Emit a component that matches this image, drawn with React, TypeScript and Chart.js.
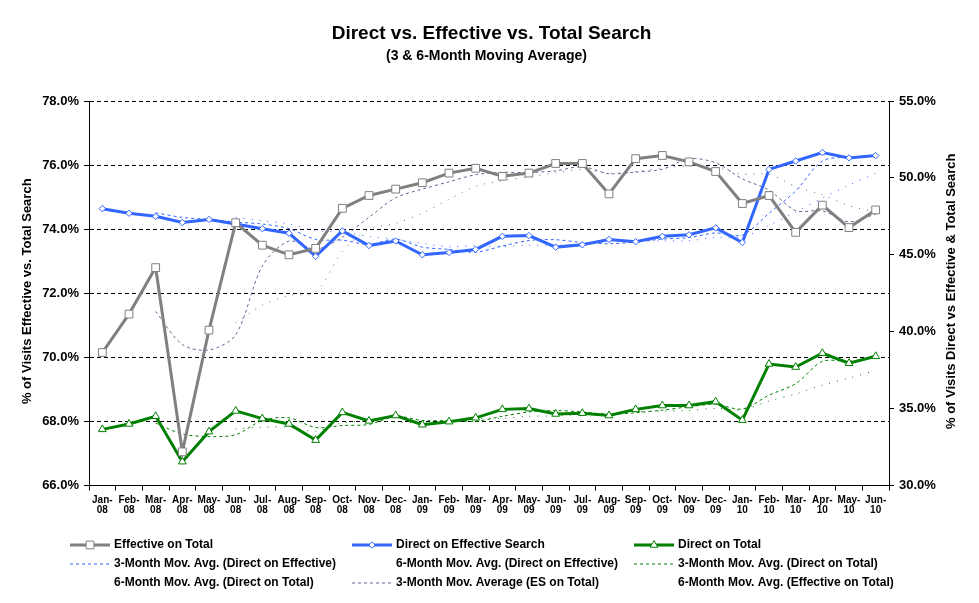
import { useEffect, useRef } from "react";
import { Chart, registerables } from "chart.js";
import { drawPoint } from "chart.js/helpers";

Chart.register(...registerables);

const categories: string[][] = [
  ["Jan-", "08"], ["Feb-", "08"], ["Mar-", "08"], ["Apr-", "08"], ["May-", "08"], ["Jun-", "08"],
  ["Jul-", "08"], ["Aug-", "08"], ["Sep-", "08"], ["Oct-", "08"], ["Nov-", "08"], ["Dec-", "08"],
  ["Jan-", "09"], ["Feb-", "09"], ["Mar-", "09"], ["Apr-", "09"], ["May-", "09"], ["Jun-", "09"],
  ["Jul-", "09"], ["Aug-", "09"], ["Sep-", "09"], ["Oct-", "09"], ["Nov-", "09"], ["Dec-", "09"],
  ["Jan-", "10"], ["Feb-", "10"], ["Mar-", "10"], ["Apr-", "10"], ["May-", "10"], ["Jun-", "10"],
];

const effectiveOnTotal = [70.15, 71.35, 72.8, 67.05, 70.85, 74.2, 73.5, 73.2, 73.4, 74.65, 75.05, 75.25, 75.45, 75.75, 75.9, 75.65, 75.75, 76.05, 76.05, 75.1, 76.2, 76.3, 76.1, 75.8, 74.8, 75.05, 73.9, 74.75, 74.05, 74.6];
const directOnEffective = [48.0, 47.7, 47.5, 47.1, 47.3, 47.0, 46.7, 46.4, 44.9, 46.55, 45.6, 45.9, 45.0, 45.15, 45.35, 46.2, 46.25, 45.5, 45.65, 46.0, 45.85, 46.2, 46.3, 46.75, 45.8, 50.55, 51.1, 51.65, 51.3, 51.45];
const directOnTotal = [33.65, 34.0, 34.5, 31.55, 33.5, 34.85, 34.35, 34.0, 32.95, 34.75, 34.2, 34.55, 33.95, 34.15, 34.4, 34.95, 35.0, 34.65, 34.7, 34.55, 34.95, 35.2, 35.2, 35.45, 34.25, 37.9, 37.7, 38.6, 37.95, 38.4];

const dirEffMA3 = [null, null, 47.73, 47.43, 47.3, 47.13, 47.0, 46.7, 46.0, 45.95, 45.68, 46.02, 45.5, 45.35, 45.17, 45.57, 45.93, 45.98, 45.8, 45.72, 45.83, 46.02, 46.12, 46.42, 46.28, 47.7, 49.15, 51.1, 51.35, 51.47];
const dirEffMA6 = [null, null, null, null, null, 47.43, 47.22, 47.0, 46.57, 46.48, 46.19, 46.01, 45.73, 45.52, 45.59, 45.53, 45.64, 45.58, 45.68, 45.83, 45.91, 45.91, 45.92, 46.13, 46.15, 46.91, 47.78, 48.69, 49.53, 50.31];
const dirTotMA3 = [null, null, 34.05, 33.35, 33.18, 33.3, 34.23, 34.4, 33.77, 33.9, 33.97, 34.5, 34.23, 34.22, 34.17, 34.5, 34.78, 34.87, 34.78, 34.63, 34.73, 34.9, 35.12, 35.28, 34.97, 35.87, 36.62, 38.07, 38.08, 38.32];
const dirTotMA6 = [null, null, null, null, null, 33.68, 33.79, 33.79, 33.53, 34.07, 34.18, 34.13, 34.07, 34.09, 34.33, 34.37, 34.5, 34.52, 34.64, 34.71, 34.8, 34.84, 34.88, 35.01, 34.93, 35.49, 35.95, 36.52, 36.98, 37.47];
const effTotMA3 = [null, null, 71.43, 70.4, 70.23, 70.7, 72.85, 73.63, 73.37, 73.75, 74.37, 74.98, 75.25, 75.48, 75.7, 75.77, 75.77, 75.82, 75.95, 75.73, 75.78, 75.87, 76.2, 76.07, 75.57, 75.22, 74.58, 74.57, 74.23, 74.47];
const effTotMA6 = [null, null, null, null, null, 71.07, 71.63, 71.93, 72.03, 73.3, 74.0, 74.18, 74.5, 74.93, 75.34, 75.51, 75.63, 75.76, 75.86, 75.75, 75.8, 75.91, 75.97, 75.93, 75.72, 75.71, 75.33, 75.07, 74.73, 74.53];

const titleText = "Direct vs. Effective vs. Total Search";
const subtitleText = "(3 & 6-Month Moving Average)";
const leftAxisTitle = "% of Visits Effective vs. Total Search";
const rightAxisTitle = "% of Visits Direct vs Effective & Total Search";

const FONT = "'Liberation Sans', Arial, sans-serif";
const GRAY = "#808080";
const BLUE = "#3366FF";
const GREEN = "#008000";
const PURPLE = "#666699";

// legend grid order (dataset indices)
const legendOrder = [0, 1, 2, 3, 4, 5, 6, 7, 8];

const decorPlugin = {
  id: "decor",
  afterDraw(chart: any) {
    const ctx = chart.ctx as CanvasRenderingContext2D;
    const area = chart.chartArea;
    ctx.save();
    ctx.fillStyle = "#000";
    ctx.textAlign = "center";
    ctx.textBaseline = "middle";
    ctx.font = `bold 19px ${FONT}`;
    ctx.fillText(titleText, chart.width / 2 + 2, 34);
    ctx.font = `bold 14px ${FONT}`;
    ctx.fillText(subtitleText, chart.width / 2 - 3, 56);

    const midY = (area.top + area.bottom) / 2 - 2;
    ctx.font = `bold 13px ${FONT}`;
    ctx.save();
    ctx.translate(27, midY);
    ctx.rotate(-Math.PI / 2);
    ctx.fillText(leftAxisTitle, 0, 0);
    ctx.restore();
    ctx.save();
    ctx.translate(951, midY);
    ctx.rotate(-Math.PI / 2);
    ctx.fillText(rightAxisTitle, 0, 0);
    ctx.restore();

    // legend grid
    const cols = [70, 352, 634];
    const rows = [545, 564, 583];
    ctx.textAlign = "left";
    ctx.font = `bold 12px ${FONT}`;
    legendOrder.forEach((dsIndex, k) => {
      const ds: any = chart.data.datasets[dsIndex];
      const x = cols[k % 3];
      const y = rows[Math.floor(k / 3)];
      if (ds.legendSample !== false) {
        ctx.save();
        ctx.strokeStyle = ds.borderColor;
        ctx.lineWidth = ds.borderWidth;
        ctx.setLineDash(ds.borderDash || []);
        ctx.beginPath();
        ctx.moveTo(x, y);
        ctx.lineTo(x + 40, y);
        ctx.stroke();
        ctx.setLineDash([]);
        if (ds.pointRadius > 0) {
          ctx.fillStyle = ds.pointBackgroundColor;
          ctx.strokeStyle = ds.pointBorderColor;
          ctx.lineWidth = ds.pointBorderWidth;
          drawPoint(ctx, {
            pointStyle: ds.pointStyle,
            rotation: 0,
            radius: ds.pointRadius,
            borderWidth: ds.pointBorderWidth,
          } as any, x + 20, y);
        }
        ctx.restore();
      }
      ctx.fillStyle = "#000";
      ctx.fillText(ds.label, x + 44, y);
    });
    ctx.restore();
  },
};

export default function App() {
  const ref = useRef<HTMLCanvasElement>(null);

  useEffect(() => {
    document.body.style.margin = "0";
    if (!ref.current) return;
    const mainLine = (label: string, data: number[], color: string, axis: string, style: string, radius: number) => ({
      label,
      data,
      yAxisID: axis,
      borderColor: color,
      backgroundColor: color,
      borderWidth: 3,
      tension: 0,
      pointStyle: style,
      pointRadius: radius,
      pointHoverRadius: radius,
      pointBackgroundColor: "#ffffff",
      pointBorderColor: color,
      pointBorderWidth: 1,
    });
    const maLine = (label: string, data: (number | null)[], color: string, axis: string, dash: number[], sample: boolean) => ({
      label,
      data,
      yAxisID: axis,
      borderColor: color,
      backgroundColor: color,
      borderWidth: 1,
      borderDash: dash,
      tension: 0.3,
      pointRadius: 0,
      pointHoverRadius: 0,
      legendSample: sample,
    });

    const chart = new Chart(ref.current, {
      type: "line",
      data: {
        labels: categories,
        datasets: [
          mainLine("Effective on Total", effectiveOnTotal, GRAY, "y", "rect", 5.5),
          mainLine("Direct on Effective Search", directOnEffective, BLUE, "y1", "rectRot", 3.2),
          mainLine("Direct on Total", directOnTotal, GREEN, "y1", "triangle", 4.5),
          maLine("3-Month Mov. Avg. (Direct on Effective)", dirEffMA3, BLUE, "y1", [3, 3], true),
          maLine("6-Month Mov. Avg. (Direct on Effective)", dirEffMA6, BLUE, "y1", [1, 7], false),
          maLine("3-Month Mov. Avg. (Direct on Total)", dirTotMA3, GREEN, "y1", [3, 3], true),
          maLine("6-Month Mov. Avg. (Direct on Total)", dirTotMA6, GREEN, "y1", [1, 7], false),
          maLine("3-Month Mov. Average (ES on Total)", effTotMA3, PURPLE, "y", [3, 3], true),
          maLine("6-Month Mov. Avg. (Effective on Total)", effTotMA6, PURPLE, "y", [1, 7], false),
        ] as any,
      },
      options: {
        responsive: false,
        animation: false,
        layout: { padding: { top: 101, bottom: 77.5, left: 0, right: 0 } },
        plugins: {
          legend: { display: false },
          title: { display: false },
          tooltip: { enabled: false },
        },
        scales: {
          x: {
            offset: true,
            grid: { offset: true, drawOnChartArea: false, drawTicks: true, tickLength: 5, color: "#000", tickColor: "#000" },
            border: { display: true, color: "#000", width: 1 },
            ticks: {
              autoSkip: false,
              maxRotation: 0,
              minRotation: 0,
              padding: 4,
              color: "#000",
              font: { family: FONT, size: 10, weight: "bold", lineHeight: 1.05 },
            },
            afterFit: (s: any) => { s.height = 40; },
          },
          y: {
            position: "left",
            min: 66,
            max: 78,
            ticks: {
              stepSize: 2,
              padding: 5,
              color: "#000",
              font: { family: FONT, size: 13, weight: "bold" },
              callback: (v: any) => Number(v).toFixed(1) + "%",
            },
            grid: { color: "#000", lineWidth: 1, tickLength: 5, tickColor: "#000", drawTicks: true },
            border: { display: true, color: "#000", width: 1, dash: [4, 3] },
            afterFit: (s: any) => { s.width = 89; },
          },
          y1: {
            position: "right",
            min: 30,
            max: 55,
            ticks: {
              stepSize: 5,
              padding: 5,
              color: "#000",
              font: { family: FONT, size: 13, weight: "bold" },
              callback: (v: any) => Number(v).toFixed(1) + "%",
            },
            grid: { drawOnChartArea: false, tickLength: 5, tickColor: "#000", color: "#000" },
            border: { display: true, color: "#000", width: 1 },
            afterFit: (s: any) => { s.width = 90; },
          },
        },
      } as any,
      plugins: [decorPlugin],
    });
    return () => chart.destroy();
  }, []);

  return (
    <div style={{ width: 979, height: 603, background: "#fff" }}>
      <canvas ref={ref} width={979} height={603} style={{ display: "block", width: 979, height: 603 }} />
    </div>
  );
}
